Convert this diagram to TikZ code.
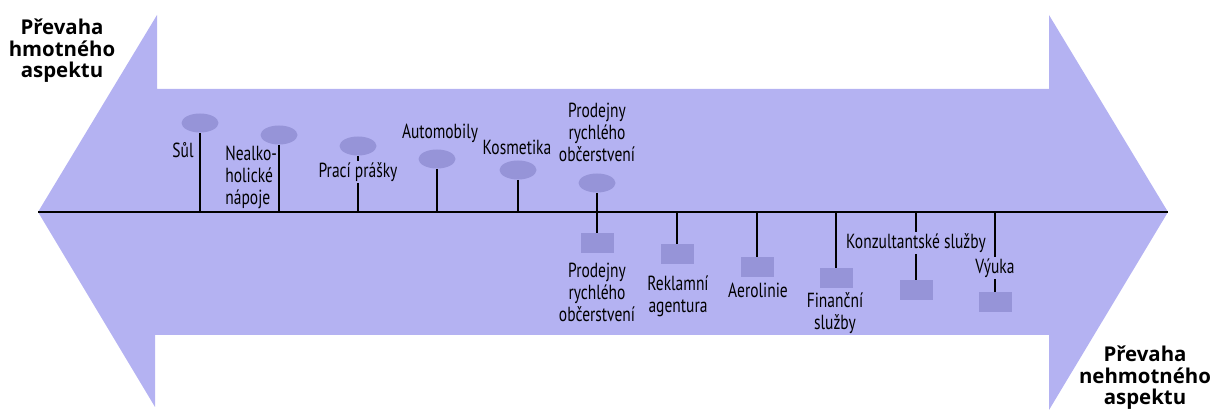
\documentclass[tikz,border=0pt]{standalone}
\usepackage{fontspec}
\setmainfont{PT Sans}
\newfontfamily\narrowfont{PT Sans}[FakeStretch=0.76]
\newfontfamily\cornerfont{Open Sans}
\usetikzlibrary{positioning,shapes.geometric}
\definecolor{bandfill}{RGB}{180,178,242}
\definecolor{markfill}{RGB}{150,148,216}

\begin{document}
\begin{tikzpicture}[x=0.5pt,y=-0.5pt,
    goods/.style={ellipse,fill=markfill,minimum width=18.5pt,minimum height=9.5pt,inner sep=0pt},
    service/.style={rectangle,fill=markfill,minimum width=16.5pt,minimum height=10pt,inner sep=0pt},
    lbl/.style={font=\narrowfont\fontsize{10.2}{11}\selectfont,align=center,inner sep=0.5pt},
    corner/.style={font=\cornerfont\bfseries\fontsize{10.2}{10.8}\selectfont,align=center,inner sep=0pt},
    stem/.style={line width=0.6pt}]
        \useasboundingbox (0,0) rectangle (1221,410);
        % the double arrow
        \fill[bandfill] (38,212) -- (157,15) -- (157,89) -- (1049,89) -- (1049,15) -- (1168,212)
            -- (1049,410) -- (1049,335) -- (155,335) -- (155,407) -- cycle;
        \coordinate (axl) at (38,212);
        \coordinate (axr) at (1168,212);
        \draw[stem] (axl) -- (axr);
        \node[corner] (goodsend) at (62,51) {Převaha\\hmotného\\aspektu};
        \node[corner] (serviceend) at (1145,378) {Převaha\\nehmotného\\aspektu};
        % goods, above the axis
        \node[goods] (sul) at (200,123) {};
        \node[lbl,anchor=east] (sullbl) at (195,150) {Sůl};
        \draw[stem] (sul.south) -- (sul.south |- axl);
        \node[goods] (napoje) at (279,135) {};
        \node[lbl,align=left,anchor=west] (napojelbl) at (224,177) {Nealko-\\holické\\nápoje};
        \draw[stem] (napoje.south) -- (napoje.south |- axl);
        \node[goods] (praci) at (358,146) {};
        \node[lbl] (pracilbl) at (358,172) {Prací prášky};
        \draw[stem] (praci.south) -- (pracilbl.north);
        \draw[stem] (pracilbl.south) -- (pracilbl.south |- axl);
        \node[goods] (auto) at (437,159) {};
        \node[lbl] (autolbl) at (440,133) {Automobily};
        \draw[stem] (auto.south) -- (auto.south |- axl);
        \node[goods] (kosm) at (518,170) {};
        \node[lbl] (kosmlbl) at (517,147) {Kosmetika};
        \draw[stem] (kosm.south) -- (kosm.south |- axl);
        \node[goods] (fasttop) at (597,183) {};
        \node[lbl] (fasttoplbl) at (597,132) {Prodejny\\rychlého\\občerstvení};
        \draw[stem] (fasttop.south) -- (fasttop.south |- axl);
        % services, below the axis
        \node[service] (fastbot) at (597,243) {};
        \node[lbl] (fastbotlbl) at (597,292) {Prodejny\\rychlého\\občerstvení};
        \draw[stem] (fastbot.north |- axl) -- (fastbot.north);
        \node[service] (rekl) at (677,254) {};
        \node[lbl] (rekllbl) at (678,296) {Reklamní\\agentura};
        \draw[stem] (rekl.north |- axl) -- (rekl.north);
        \node[service] (aero) at (757,267) {};
        \node[lbl] (aerolbl) at (758,290) {Aerolinie};
        \draw[stem] (aero.north |- axl) -- (aero.north);
        \node[service] (fin) at (836,278) {};
        \node[lbl] (finlbl) at (835,313) {Finanční\\služby};
        \draw[stem] (fin.north |- axl) -- (fin.north);
        \node[service] (konz) at (916,290) {};
        \node[lbl] (konzlbl) at (916,243) {Konzultantské služby};
        \draw[stem] (konz.north |- axl) -- (konzlbl.north);
        \draw[stem] (konzlbl.south) -- (konz.north);
        \node[service] (vyuka) at (995,302) {};
        \node[lbl] (vyukalbl) at (995,268) {Výuka};
        \draw[stem] (vyuka.north |- axl) -- (vyukalbl.north);
        \draw[stem] (vyukalbl.south) -- (vyuka.north);
\end{tikzpicture}
\end{document}
